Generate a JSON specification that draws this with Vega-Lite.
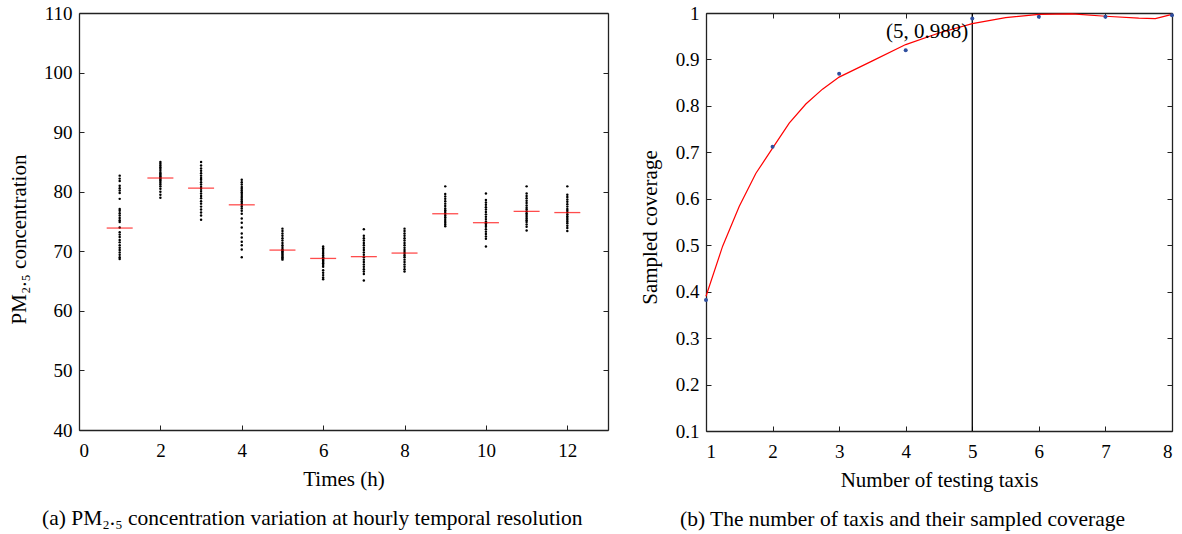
{
  "$schema": "https://vega.github.io/schema/vega-lite/v6.json",
  "background": "white",
  "padding": {"left": 8, "top": 4, "right": 4, "bottom": 2},
  "spacing": 30,
  "config": {
    "font": "Liberation Serif",
    "view": {"stroke": null},
    "style": {
      "guide-label": {"font": "Liberation Serif", "fontSize": 19, "fill": "black"},
      "guide-title": {"font": "Liberation Serif", "fontSize": 21, "fontWeight": "normal", "fill": "black"}
    },
    "axis": {
      "grid": false,
      "labelFont": "Liberation Serif",
      "titleFont": "Liberation Serif",
      "labelFontSize": 19,
      "titleFontSize": 21,
      "titleFontWeight": "normal",
      "labelColor": "black",
      "titleColor": "black",
      "domainColor": "#222",
      "domainWidth": 1.3,
      "tickColor": "#222",
      "tickWidth": 1,
      "tickSize": -5
    },
    "title": {"font": "Liberation Serif", "fontWeight": "normal", "fontSize": 21.5, "color": "black"}
  },
  "datasets": {
    "pm": [
      {"h":1,"v":82.7},{"h":1,"v":82.2},{"h":1,"v":81.8},{"h":1,"v":81.0},{"h":1,"v":80.6},{"h":1,"v":80.2},{"h":1,"v":79.8},{"h":1,"v":78.8},{"h":1,"v":77.1},{"h":1,"v":76.8},{"h":1,"v":76.4},{"h":1,"v":76.0},{"h":1,"v":75.6},{"h":1,"v":75.2},{"h":1,"v":74.9},{"h":1,"v":74.0},{"h":1,"v":73.2},{"h":1,"v":72.8},{"h":1,"v":72.4},{"h":1,"v":71.9},{"h":1,"v":71.5},{"h":1,"v":71.0},{"h":1,"v":70.6},{"h":1,"v":70.2},{"h":1,"v":69.8},{"h":1,"v":69.4},{"h":1,"v":69.0},{"h":1,"v":68.7},
      {"h":2,"v":85.0},{"h":2,"v":84.7},{"h":2,"v":84.4},{"h":2,"v":84.1},{"h":2,"v":83.8},{"h":2,"v":83.5},{"h":2,"v":83.2},{"h":2,"v":83.0},{"h":2,"v":82.8},{"h":2,"v":82.6},{"h":2,"v":82.4},{"h":2,"v":82.2},{"h":2,"v":82.0},{"h":2,"v":81.8},{"h":2,"v":81.5},{"h":2,"v":81.2},{"h":2,"v":80.9},{"h":2,"v":80.5},{"h":2,"v":80.0},{"h":2,"v":79.5},{"h":2,"v":79.0},
      {"h":3,"v":85.0},{"h":3,"v":84.4},{"h":3,"v":83.9},{"h":3,"v":83.5},{"h":3,"v":83.1},{"h":3,"v":82.7},{"h":3,"v":82.3},{"h":3,"v":82.0},{"h":3,"v":81.6},{"h":3,"v":81.2},{"h":3,"v":80.8},{"h":3,"v":80.5},{"h":3,"v":80.1},{"h":3,"v":79.7},{"h":3,"v":79.3},{"h":3,"v":78.9},{"h":3,"v":78.4},{"h":3,"v":78.0},{"h":3,"v":77.5},{"h":3,"v":77.0},{"h":3,"v":76.5},{"h":3,"v":76.0},{"h":3,"v":75.3},
      {"h":4,"v":82.0},{"h":4,"v":81.6},{"h":4,"v":81.2},{"h":4,"v":80.8},{"h":4,"v":80.5},{"h":4,"v":80.2},{"h":4,"v":79.9},{"h":4,"v":79.6},{"h":4,"v":79.3},{"h":4,"v":79.0},{"h":4,"v":78.7},{"h":4,"v":78.4},{"h":4,"v":78.1},{"h":4,"v":77.8},{"h":4,"v":77.5},{"h":4,"v":77.2},{"h":4,"v":76.8},{"h":4,"v":76.3},{"h":4,"v":75.5},{"h":4,"v":74.8},{"h":4,"v":74.0},{"h":4,"v":73.0},{"h":4,"v":72.3},{"h":4,"v":71.6},{"h":4,"v":71.0},{"h":4,"v":70.3},{"h":4,"v":69.0},
      {"h":5,"v":73.8},{"h":5,"v":73.4},{"h":5,"v":73.0},{"h":5,"v":72.6},{"h":5,"v":72.2},{"h":5,"v":71.8},{"h":5,"v":71.4},{"h":5,"v":71.0},{"h":5,"v":70.7},{"h":5,"v":70.4},{"h":5,"v":70.2},{"h":5,"v":70.0},{"h":5,"v":69.8},{"h":5,"v":69.6},{"h":5,"v":69.4},{"h":5,"v":69.2},{"h":5,"v":69.0},{"h":5,"v":68.8},{"h":5,"v":68.6},
      {"h":6,"v":70.8},{"h":6,"v":70.5},{"h":6,"v":70.2},{"h":6,"v":69.9},{"h":6,"v":69.6},{"h":6,"v":69.3},{"h":6,"v":69.0},{"h":6,"v":68.8},{"h":6,"v":68.6},{"h":6,"v":68.4},{"h":6,"v":68.2},{"h":6,"v":68.0},{"h":6,"v":67.7},{"h":6,"v":67.4},{"h":6,"v":66.8},{"h":6,"v":66.4},{"h":6,"v":66.0},{"h":6,"v":65.6},{"h":6,"v":65.3},
      {"h":7,"v":73.7},{"h":7,"v":72.6},{"h":7,"v":72.2},{"h":7,"v":71.8},{"h":7,"v":71.4},{"h":7,"v":71.0},{"h":7,"v":70.6},{"h":7,"v":70.2},{"h":7,"v":69.8},{"h":7,"v":69.4},{"h":7,"v":69.0},{"h":7,"v":68.6},{"h":7,"v":68.2},{"h":7,"v":67.8},{"h":7,"v":67.4},{"h":7,"v":67.0},{"h":7,"v":66.6},{"h":7,"v":66.2},{"h":7,"v":65.1},
      {"h":8,"v":73.8},{"h":8,"v":73.4},{"h":8,"v":73.0},{"h":8,"v":72.6},{"h":8,"v":72.2},{"h":8,"v":71.8},{"h":8,"v":71.4},{"h":8,"v":71.0},{"h":8,"v":70.6},{"h":8,"v":70.2},{"h":8,"v":69.9},{"h":8,"v":69.6},{"h":8,"v":69.3},{"h":8,"v":69.0},{"h":8,"v":68.6},{"h":8,"v":68.2},{"h":8,"v":67.8},{"h":8,"v":67.4},{"h":8,"v":67.0},{"h":8,"v":66.6},
      {"h":9,"v":80.9},{"h":9,"v":79.6},{"h":9,"v":79.2},{"h":9,"v":78.8},{"h":9,"v":78.4},{"h":9,"v":78.0},{"h":9,"v":77.6},{"h":9,"v":77.2},{"h":9,"v":76.9},{"h":9,"v":76.6},{"h":9,"v":76.3},{"h":9,"v":76.0},{"h":9,"v":75.7},{"h":9,"v":75.4},{"h":9,"v":75.1},{"h":9,"v":74.8},{"h":9,"v":74.5},{"h":9,"v":74.2},
      {"h":10,"v":79.7},{"h":10,"v":78.6},{"h":10,"v":78.2},{"h":10,"v":77.8},{"h":10,"v":77.4},{"h":10,"v":77.0},{"h":10,"v":76.6},{"h":10,"v":76.2},{"h":10,"v":75.8},{"h":10,"v":75.4},{"h":10,"v":75.0},{"h":10,"v":74.7},{"h":10,"v":74.4},{"h":10,"v":74.1},{"h":10,"v":73.7},{"h":10,"v":73.3},{"h":10,"v":72.9},{"h":10,"v":72.5},{"h":10,"v":72.1},{"h":10,"v":70.8},
      {"h":11,"v":80.9},{"h":11,"v":79.7},{"h":11,"v":79.3},{"h":11,"v":78.9},{"h":11,"v":78.5},{"h":11,"v":78.1},{"h":11,"v":77.7},{"h":11,"v":77.3},{"h":11,"v":77.0},{"h":11,"v":76.7},{"h":11,"v":76.4},{"h":11,"v":76.1},{"h":11,"v":75.8},{"h":11,"v":75.5},{"h":11,"v":75.2},{"h":11,"v":74.9},{"h":11,"v":74.5},{"h":11,"v":74.1},{"h":11,"v":73.5},
      {"h":12,"v":80.9},{"h":12,"v":79.5},{"h":12,"v":79.1},{"h":12,"v":78.7},{"h":12,"v":78.3},{"h":12,"v":77.9},{"h":12,"v":77.5},{"h":12,"v":77.1},{"h":12,"v":76.8},{"h":12,"v":76.5},{"h":12,"v":76.2},{"h":12,"v":75.9},{"h":12,"v":75.6},{"h":12,"v":75.3},{"h":12,"v":75.0},{"h":12,"v":74.7},{"h":12,"v":74.3},{"h":12,"v":73.9},{"h":12,"v":73.4}
    ],
    "pmMean": [
      {"h":1,"m":73.9},{"h":2,"m":82.3},{"h":3,"m":80.6},{"h":4,"m":77.8},{"h":5,"m":70.2},{"h":6,"m":68.8},
      {"h":7,"m":69.1},{"h":8,"m":69.7},{"h":9,"m":76.3},{"h":10,"m":74.8},{"h":11,"m":76.7},{"h":12,"m":76.5}
    ],
    "cov": [
      {"n":1,"c":0.382},{"n":2,"c":0.712},{"n":3,"c":0.869},{"n":4,"c":0.92},
      {"n":5,"c":0.988},{"n":6,"c":0.992},{"n":7,"c":0.992},{"n":8,"c":0.995}
    ],
    "fit": [
      {"n":1,"c":0.39},{"n":1.25,"c":0.498},{"n":1.5,"c":0.584},{"n":1.75,"c":0.655},{"n":2,"c":0.709},
      {"n":2.25,"c":0.763},{"n":2.5,"c":0.804},{"n":2.75,"c":0.836},{"n":3,"c":0.862},{"n":3.5,"c":0.897},
      {"n":4,"c":0.932},{"n":4.5,"c":0.957},{"n":5,"c":0.977},{"n":5.5,"c":0.99},{"n":6,"c":0.997},
      {"n":6.5,"c":0.998},{"n":7,"c":0.993},{"n":7.5,"c":0.989},{"n":7.75,"c":0.988},{"n":8,"c":0.997}
    ],
    "mark5": [{"n":5,"c":0.988,"label":"(5, 0.988)"}]
  },
  "hconcat": [
    {
      "width": 529,
      "height": 417,
      "title": {"text": "(a)  PM₂.₅ concentration variation at hourly temporal resolution", "orient": "bottom", "anchor": "start", "frame": "group", "dx": -37, "offset": 19},
      "layer": [
        {
          "data": {"name": "pm"},
          "mark": {"type": "circle", "size": 6, "color": "black", "opacity": 1},
          "encoding": {
            "x": {"field": "h", "type": "quantitative", "scale": {"domain": [0, 13], "nice": false},
                  "axis": {"orient": "bottom", "values": [0,2,4,6,8,10,12], "title": "Times (h)", "titlePadding": 8, "labelPadding": 16}},
            "y": {"field": "v", "type": "quantitative", "scale": {"domain": [40, 110], "nice": false, "zero": false},
                  "axis": {"orient": "left", "values": [40,50,60,70,80,90,100,110], "title": "PM₂.₅ concentration", "titlePadding": 14, "labelPadding": 12, "titleY": 226}}
          }
        },
        {
          "data": {"name": "pmMean"},
          "mark": {"type": "tick", "orient": "horizontal", "color": "red", "size": 26, "thickness": 1.3},
          "encoding": {
            "x": {"field": "h", "type": "quantitative", "scale": {"domain": [0, 13], "nice": false},
                  "axis": {"orient": "top", "values": [0,2,4,6,8,10,12], "labels": false, "title": null, "ticks": false}},
            "y": {"field": "m", "type": "quantitative", "scale": {"domain": [40, 110], "nice": false, "zero": false},
                  "axis": {"orient": "right", "values": [40,50,60,70,80,90,100,110], "labels": false, "title": null}}
          }
        }
      ],
      "resolve": {"axis": {"x": "independent", "y": "independent"}}
    },
    {
      "width": 466,
      "height": 418,
      "title": {"text": "(b)  The number of taxis and their sampled coverage", "orient": "bottom", "anchor": "start", "frame": "group", "dx": -26, "offset": 19},
      "layer": [
        {
          "data": {"name": "mark5"},
          "mark": {"type": "rule", "color": "black", "strokeWidth": 1.3},
          "encoding": {
            "x": {"field": "n", "type": "quantitative", "scale": {"domain": [1, 8], "nice": false, "zero": false}, "axis": null}
          }
        },
        {
          "data": {"name": "fit"},
          "mark": {"type": "line", "color": "red", "strokeWidth": 1.2},
          "encoding": {
            "x": {"field": "n", "type": "quantitative", "scale": {"domain": [1, 8], "nice": false, "zero": false},
                  "axis": {"orient": "bottom", "values": [1,2,3,4,5,6,7,8], "title": "Number of testing taxis", "titlePadding": 8, "labelPadding": 16}},
            "y": {"field": "c", "type": "quantitative", "scale": {"domain": [0.1, 1], "nice": false, "zero": false},
                  "axis": {"orient": "left", "values": [0.1,0.2,0.3,0.4,0.5,0.6,0.7,0.8,0.9,1], "format": "~g", "title": "Sampled coverage", "titlePadding": 15, "labelPadding": 12, "titleY": 214}}
          }
        },
        {
          "data": {"name": "cov"},
          "mark": {"type": "circle", "size": 16, "color": "#2f4f9f", "opacity": 1},
          "encoding": {
            "x": {"field": "n", "type": "quantitative", "scale": {"domain": [1, 8], "nice": false, "zero": false},
                  "axis": {"orient": "top", "values": [1,2,3,4,5,6,7,8], "labels": false, "title": null}},
            "y": {"field": "c", "type": "quantitative", "scale": {"domain": [0.1, 1], "nice": false, "zero": false},
                  "axis": {"orient": "right", "values": [0.1,0.2,0.3,0.4,0.5,0.6,0.7,0.8,0.9,1], "labels": false, "title": null}}
          }
        },
        {
          "data": {"name": "mark5"},
          "mark": {"type": "text", "align": "right", "baseline": "middle", "dx": -4, "dy": 13, "fontSize": 21, "font": "Liberation Serif", "color": "black"},
          "encoding": {
            "x": {"field": "n", "type": "quantitative", "scale": {"domain": [1, 8], "nice": false, "zero": false}, "axis": null},
            "y": {"field": "c", "type": "quantitative", "scale": {"domain": [0.1, 1], "nice": false, "zero": false}, "axis": null},
            "text": {"field": "label"}
          }
        }
      ],
      "resolve": {"axis": {"x": "independent", "y": "independent"}}
    }
  ]
}
